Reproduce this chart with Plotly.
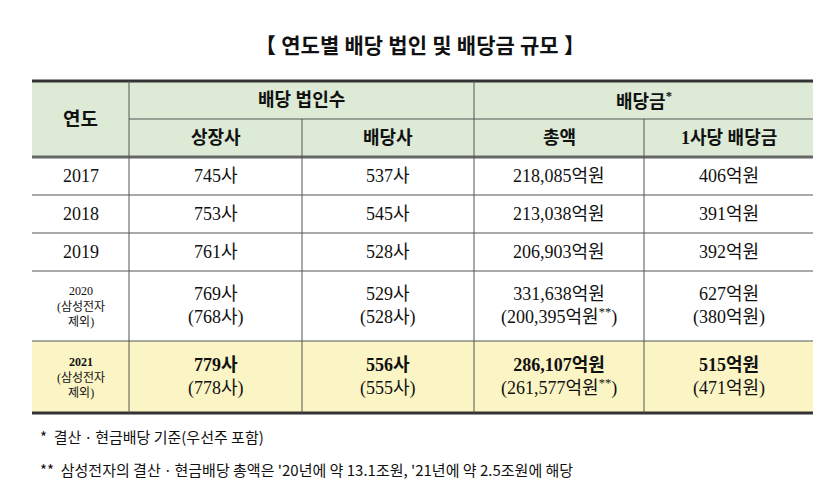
import plotly.graph_objects as go

title = "【 연도별 배당 법인 및 배당금 규모 】"
years = ["2017", "2018", "2019", "2020<br><span style='font-size:12px'>(삼성전자<br>제외)</span>",
         "<b>2021</b><br><span style='font-size:12px'>(삼성전자<br>제외)</span>"]
listed = ["745사", "753사", "761사", "769사<br>(768사)", "<b>779사</b><br>(778사)"]
payers = ["537사", "545사", "528사", "529사<br>(528사)", "<b>556사</b><br>(555사)"]
total = ["218,085억원", "213,038억원", "206,903억원", "331,638억원<br>(200,395억원<sup>**</sup>)",
         "<b>286,107억원</b><br>(261,577억원<sup>**</sup>)"]
per_co = ["406억원", "391억원", "392억원", "627억원<br>(380억원)", "<b>515억원</b><br>(471억원)"]
notes = ["*  결산ㆍ현금배당 기준(우선주 포함)",
         "**  삼성전자의 결산ㆍ현금배당 총액은 '20년에 약 13.1조원, '21년에 약 2.5조원에 해당"]

col_x = [24, 121, 294, 466, 636, 805]
row_y = [73, 111, 149, 187, 225, 263, 333, 405]
FONT = "Liberation Serif, Noto Sans CJK KR"
HEAD_BG = "#dcead6"
HL_BG = "#fbf5c5"
LINE = "#555"

fig = go.Figure()
shapes = []
ann = []

def rect(x0, x1, y0, y1, color):
    shapes.append(dict(type="rect", x0=x0, x1=x1, y0=y0, y1=y1, fillcolor=color, line_width=0, layer="below"))

def line(x0, y0, x1, y1, w=1, c=LINE):
    shapes.append(dict(type="line", x0=x0, x1=x1, y0=y0, y1=y1, line=dict(color=c, width=w)))

def text(x, y, s, size=17, bold=False):
    ann.append(dict(x=x, y=y, text=f"<b>{s}</b>" if bold else s, showarrow=False,
                    font=dict(family=FONT, size=size, color="#111"), align="center"))

rect(col_x[0], col_x[-1], row_y[0], row_y[2], HEAD_BG)
rect(col_x[0], col_x[-1], row_y[6], row_y[7], HL_BG)

# horizontal lines
line(col_x[1], row_y[1], col_x[-1], row_y[1])
for y in row_y[3:7]:
    line(col_x[0], y, col_x[-1], y)
line(col_x[0], row_y[2], col_x[-1], row_y[2], 3, "#666")
line(col_x[0], row_y[0], col_x[-1], row_y[0], 3, "#333")
line(col_x[0], row_y[7], col_x[-1], row_y[7], 3, "#333")
# vertical lines
line(col_x[1], row_y[0], col_x[1], row_y[7])
line(col_x[3], row_y[0], col_x[3], row_y[7])
line(col_x[2], row_y[1], col_x[2], row_y[7])
line(col_x[4], row_y[1], col_x[4], row_y[7])

text(412, 38, title, 21, True)
text((col_x[0] + col_x[1]) / 2, (row_y[0] + row_y[2]) / 2, "연도", 19, True)
text((col_x[1] + col_x[3]) / 2, (row_y[0] + row_y[1]) / 2, "배당 법인수", 18, True)
text((col_x[3] + col_x[5]) / 2, (row_y[0] + row_y[1]) / 2, "배당금<sup>*</sup>", 18, True)
for i, h in enumerate(["상장사", "배당사", "총액", "1사당 배당금"]):
    text((col_x[i + 1] + col_x[i + 2]) / 2, (row_y[1] + row_y[2]) / 2, h, 18, True)

cols = [years, listed, payers, total, per_co]
for r in range(5):
    yc = (row_y[r + 2] + row_y[r + 3]) / 2
    for c, col in enumerate(cols):
        text((col_x[c] + col_x[c + 1]) / 2, yc, col[r], 12 if (c == 0 and r > 2) else 18)

for i, n in enumerate(notes):
    ann.append(dict(x=30, y=428 + i * 33, text=n, showarrow=False, xanchor="left",
                    font=dict(family="Noto Sans CJK KR", size=15, color="#111")))

fig.update_layout(
    width=833, height=488, margin=dict(l=0, r=0, t=0, b=0),
    plot_bgcolor="white", paper_bgcolor="white",
    xaxis=dict(range=[0, 833], visible=False),
    yaxis=dict(range=[488, 0], visible=False),
    shapes=shapes, annotations=ann, showlegend=False,
)
fig.write_html("out.html")
